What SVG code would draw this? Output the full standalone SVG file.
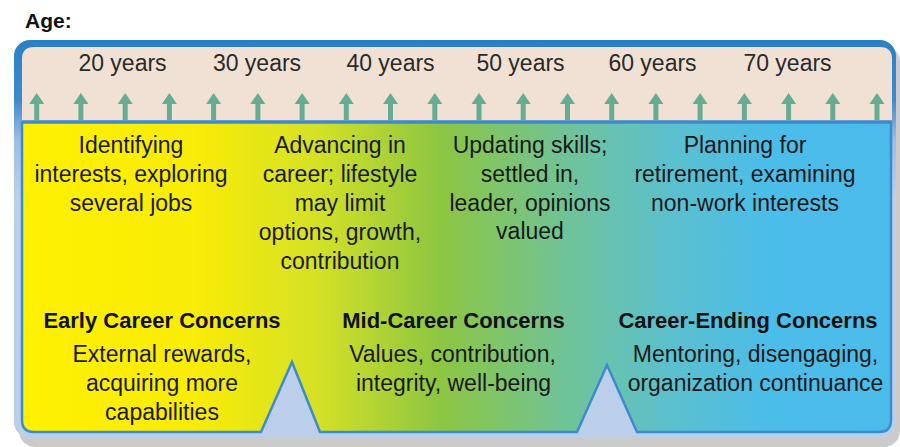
<svg xmlns="http://www.w3.org/2000/svg" width="900" height="447" viewBox="0 0 900 447">
<defs>
<style>
.t{font-family:"Liberation Sans",Arial,sans-serif;font-size:23px;fill:#1a1a1a;text-anchor:middle}
.b{font-family:"Liberation Sans",Arial,sans-serif;font-size:22px;font-weight:bold;fill:#111;text-anchor:middle}
.yr{font-family:"Liberation Sans",Arial,sans-serif;font-size:23px;fill:#2a2a2a;text-anchor:middle}
</style>
<linearGradient id="frame" x1="0" y1="40" x2="0" y2="438" gradientUnits="userSpaceOnUse">
<stop offset="0" stop-color="#2a7fc4"/>
<stop offset="0.15" stop-color="#3f8acb"/>
<stop offset="0.25" stop-color="#9dbde6"/>
<stop offset="0.4" stop-color="#bcd0ea"/>
<stop offset="1" stop-color="#bccfea"/>
</linearGradient>
<linearGradient id="panel" x1="22" y1="0" x2="891" y2="0" gradientUnits="userSpaceOnUse">
<stop offset="0" stop-color="#fff100"/>
<stop offset="0.2" stop-color="#f9ec06"/>
<stop offset="0.34" stop-color="#d4e126"/>
<stop offset="0.48" stop-color="#8dc641"/>
<stop offset="0.63" stop-color="#6fc39a"/>
<stop offset="0.75" stop-color="#5bc0cf"/>
<stop offset="0.86" stop-color="#4bbde9"/>
<stop offset="1" stop-color="#4bbcea"/>
</linearGradient>
<path id="arrow" d="M0,93 L7.5,104 L2.5,104 L2.5,120 L-2.5,120 L-2.5,104 L-7.5,104 Z" fill="#66ac93"/>
</defs>

<g id="age-title">
<text x="25" y="28" font-family="Liberation Sans,Arial,sans-serif" font-size="21" font-weight="bold" fill="#111">Age:</text>
</g>

<g id="frame">
<rect x="19" y="46" width="881" height="401" rx="16" fill="#cbcbcb"/>
<rect x="14" y="40" width="882" height="398" rx="16" fill="url(#frame)"/>
<path d="M22,121 L22,59 Q22,47 34,47 L880,47 Q892,47 892,59 L892,121 Z" fill="#f1e1d4"/>
<line x1="22" y1="121.5" x2="892" y2="121.5" stroke="#3a86c8" stroke-width="2.5"/>
</g>

<g id="panel">
<path d="M22,122.5 L891,122.5 L891,420 Q891,432 879,432 L637,432 L607,365 L577,432 L320,432 L292,362 L261,432 L34,432 Q22,432 22,420 Z" fill="url(#panel)" stroke="#3d8bcf" stroke-width="2.5" stroke-linejoin="miter"/>
</g>

<g id="years">
<text class="yr" x="122.5" y="71">20 years</text>
<text class="yr" x="257" y="71">30 years</text>
<text class="yr" x="390.5" y="71">40 years</text>
<text class="yr" x="520.5" y="71">50 years</text>
<text class="yr" x="652.5" y="71">60 years</text>
<text class="yr" x="787.5" y="71">70 years</text>
</g>

<g id="arrows">
<use href="#arrow" x="36.7"/>
<use href="#arrow" x="80.9"/>
<use href="#arrow" x="125.2"/>
<use href="#arrow" x="169.4"/>
<use href="#arrow" x="213.6"/>
<use href="#arrow" x="257.9"/>
<use href="#arrow" x="302.1"/>
<use href="#arrow" x="346.3"/>
<use href="#arrow" x="390.5"/>
<use href="#arrow" x="434.8"/>
<use href="#arrow" x="479.0"/>
<use href="#arrow" x="523.2"/>
<use href="#arrow" x="567.5"/>
<use href="#arrow" x="611.7"/>
<use href="#arrow" x="655.9"/>
<use href="#arrow" x="700.1"/>
<use href="#arrow" x="744.4"/>
<use href="#arrow" x="788.6"/>
<use href="#arrow" x="832.8"/>
<use href="#arrow" x="877.0"/>
</g>

<g id="stage-20s">
<text class="t" x="131" y="153">Identifying</text>
<text class="t" x="131" y="182">interests, exploring</text>
<text class="t" x="131" y="211">several jobs</text>
</g>
<g id="stage-30s">
<text class="t" x="340" y="153">Advancing in</text>
<text class="t" x="340" y="182">career; lifestyle</text>
<text class="t" x="340" y="211">may limit</text>
<text class="t" x="340" y="240">options, growth,</text>
<text class="t" x="340" y="269">contribution</text>
</g>
<g id="stage-50s">
<text class="t" x="530" y="153">Updating skills;</text>
<text class="t" x="530" y="182">settled in,</text>
<text class="t" x="530" y="211">leader, opinions</text>
<text class="t" x="530" y="239">valued</text>
</g>
<g id="stage-60s">
<text class="t" x="745" y="153">Planning for</text>
<text class="t" x="745" y="182">retirement, examining</text>
<text class="t" x="745" y="211">non-work interests</text>
</g>

<g id="early-career">
<text class="b" x="162" y="328">Early Career Concerns</text>
<text class="t" x="162" y="362">External rewards,</text>
<text class="t" x="162" y="391">acquiring more</text>
<text class="t" x="162" y="420">capabilities</text>
</g>
<g id="mid-career">
<text class="b" x="453.5" y="328">Mid-Career Concerns</text>
<text class="t" x="452.5" y="362">Values, contribution,</text>
<text class="t" x="453.5" y="391">integrity, well-being</text>
</g>
<g id="career-ending">
<text class="b" x="748" y="328">Career-Ending Concerns</text>
<text class="t" x="755.5" y="362">Mentoring, disengaging,</text>
<text class="t" x="755.5" y="391">organization continuance</text>
</g>
</svg>
